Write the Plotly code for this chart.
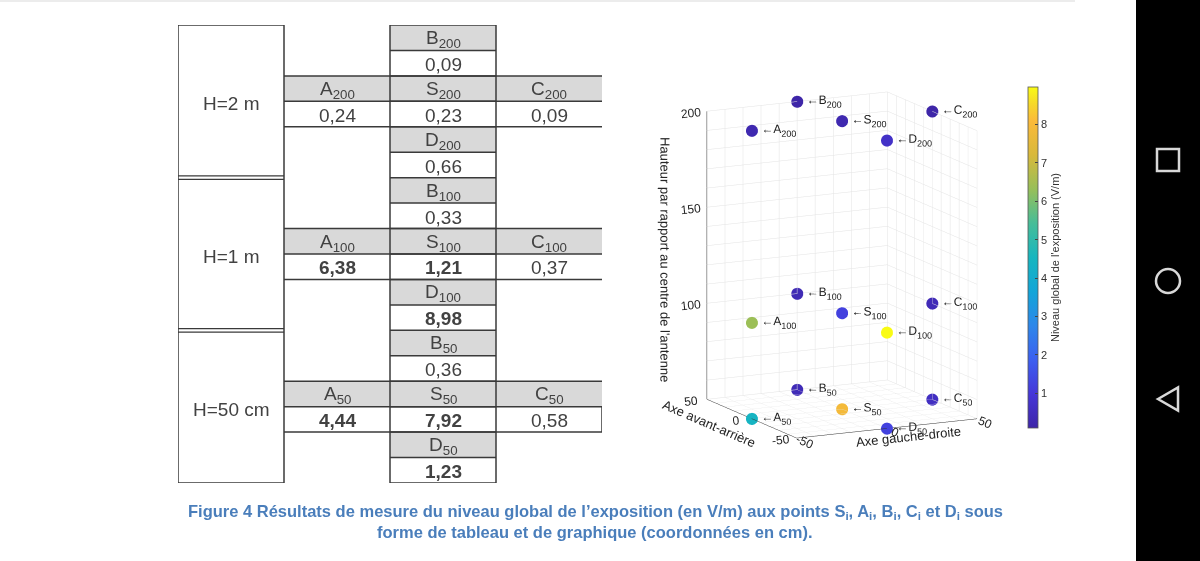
import plotly.graph_objects as go

# values (V/m), one entry per height
heights = [200, 100, 50]
level_labels = ["H=2 m", "H=1 m", "H=50 cm"]
point_names = ["S", "A", "B", "C", "D"]
pos_x = [0, -50, 0, 50, 0]    # Axe gauche-droite (cm)
pos_y = [0, 0, 50, 0, -50]    # Axe avant-arrière (cm)
S_vals = [0.23, 1.21, 7.92]
A_vals = [0.24, 6.38, 4.44]
B_vals = [0.09, 0.33, 0.36]
C_vals = [0.09, 0.37, 0.58]
D_vals = [0.66, 8.98, 1.23]
cbar_ticks = [1, 2, 3, 4, 5, 6, 7, 8]

W, H = 1200, 561
FONT = "Liberation Sans, Arial, sans-serif"
GRAY = "#d9d9d9"
LINE = "#3a3a3a"
TXT = "#424242"

vals = {"S": S_vals, "A": A_vals, "B": B_vals, "C": C_vals, "D": D_vals}

# parula-like colormap
parula = [
    [0.0, "#3e26a8"], [0.1, "#4637d8"], [0.2, "#3c5ff0"], [0.3, "#2d87ea"],
    [0.4, "#12a5d8"], [0.5, "#17b6bf"], [0.6, "#47bd98"], [0.7, "#97bf59"],
    [0.8, "#d8b93c"], [0.9, "#fbba3a"], [0.95, "#f6d82a"], [1.0, "#f9fb14"],
]


def fmt(v):
    s = f"{v:.2f}".replace(".", ",")
    return f"<b>{s}</b>" if v > 1 else s


def px2x(p):
    return p / W


def px2y(p):
    return 1 - p / H


shapes = []
annots = []


def hline(x0, x1, y, w=1.5):
    shapes.append(dict(type="line", xref="x", yref="y", x0=x0, x1=x1, y0=y, y1=y,
                       line=dict(color=LINE, width=w)))


def vline(x, y0, y1, w=1.5):
    shapes.append(dict(type="line", xref="x", yref="y", x0=x, x1=x, y0=y0, y1=y1,
                       line=dict(color=LINE, width=w)))


def cell(col, row, text, header):
    if header:
        shapes.append(dict(type="rect", xref="x", yref="y", x0=col, x1=col + 1,
                           y0=row, y1=row + 1, fillcolor=GRAY, line_width=0,
                           layer="below"))
    annots.append(dict(xref="x", yref="y", x=col + 0.5, y=row + 0.55, text=text,
                       showarrow=False, font=dict(family=FONT, size=19, color=TXT)))


# ---- table (columns: 0 = height box, 1 = A, 2 = S/B/D, 3 = C) ----
for i, h in enumerate(heights):
    r = 6 * i
    sub = f"<sub>{h}</sub>"
    cell(2, r, "B" + sub, True)
    cell(2, r + 1, fmt(B_vals[i]), False)
    cell(1, r + 2, "A" + sub, True)
    cell(2, r + 2, "S" + sub, True)
    cell(3, r + 2, "C" + sub, True)
    cell(1, r + 3, fmt(A_vals[i]), False)
    cell(2, r + 3, fmt(S_vals[i]), False)
    cell(3, r + 3, fmt(C_vals[i]), False)
    cell(2, r + 4, "D" + sub, True)
    cell(2, r + 5, fmt(D_vals[i]), False)
    annots.append(dict(xref="x", yref="y", x=0.5, y=r + 3.1, text=level_labels[i],
                       showarrow=False, font=dict(family=FONT, size=19, color=TXT)))
    for k in (2, 3, 4):
        hline(1, 4, r + k)

for k in range(19):
    hline(2, 3, k)
for x in (0, 1, 2, 3):
    vline(x, 0, 18)
vline(4, 15, 16)
hline(0, 1, 0)
hline(0, 1, 18)
for y in (6, 12):
    hline(0, 1, y - 0.07, 1.2)
    hline(0, 1, y + 0.07, 1.2)

# ---- 3D scatter ----
xs, ys, zs, cs, labels = [], [], [], [], []
for i, h in enumerate(heights):
    for name, x, y in zip(point_names, pos_x, pos_y):
        xs.append(x)
        ys.append(y)
        zs.append(h)
        cs.append(vals[name][i])
        labels.append("\u2190" + name + f"<sub>{h}</sub>")

scatter = go.Scatter3d(
    x=xs, y=ys, z=zs, mode="markers+text", text=labels,
    textposition="middle right",
    textfont=dict(family=FONT, size=12, color="#222222"),
    marker=dict(
        size=7, color=cs, colorscale=parula, opacity=1, line=dict(width=0),
        colorbar=dict(
            x=px2x(1028), xanchor="left", xpad=0, y=px2y(257.5), yanchor="middle",
            ypad=0, len=341 / H, thickness=10, tickvals=cbar_ticks, ticks="inside",
            ticklen=3, tickcolor="#444", outlinewidth=0.8, outlinecolor="#555",
            tickfont=dict(family=FONT, size=11, color="#333"),
            title=dict(text="Niveau global de l'exposition (V/m)", side="right",
                       font=dict(family=FONT, size=11, color="#333")),
        ),
    ),
    hoverinfo="skip", showlegend=False,
)

grid_xy = list(range(-50, 51, 10))
grid_z = list(range(50, 201, 10))


def axis3d(title, tv, rng):
    return dict(
        title=dict(text=title, font=dict(family=FONT, size=13, color="#262626")),
        range=rng, tickvals=tv, ticktext=[str(v) if v % 50 == 0 else "" for v in tv],
        tickfont=dict(family=FONT, size=12, color="#262626"),
        showbackground=False, gridcolor="#e3e3e3", gridwidth=1,
        showline=True, linecolor="#333", linewidth=1, zeroline=False,
        showspikes=False, ticks="",
    )


fig = go.Figure(scatter)
fig.update_layout(
    width=W, height=H, margin=dict(l=0, r=0, t=0, b=0),
    paper_bgcolor="white", plot_bgcolor="white", template="none",
    xaxis=dict(domain=[px2x(178), px2x(602)], range=[0, 4], visible=False,
               fixedrange=True),
    yaxis=dict(domain=[px2y(483), px2y(25)], range=[18, 0], visible=False,
               fixedrange=True),
    scene=dict(
        domain=dict(x=[0.532, 0.872], y=[0.138, 0.918]),
        xaxis=axis3d("Axe gauche-droite", grid_xy, [-50, 50]),
        yaxis=axis3d("Axe avant-arrière", grid_xy, [-50, 50]),
        zaxis=axis3d("Hauteur par rapport au centre de l'antenne", grid_z, [50, 200]),
        aspectmode="manual", aspectratio=dict(x=0.92, y=0.92, z=1.347),
        camera=dict(projection=dict(type="orthographic"),
                    eye=dict(x=-0.97, y=-1.95, z=0.48),
                    up=dict(x=0, y=0, z=1), center=dict(x=0, y=0, z=0)),
    ),
)

# phone navigation bar and page decorations
shapes.append(dict(type="line", xref="paper", yref="paper", x0=0, x1=px2x(1075),
                   y0=px2y(1), y1=px2y(1), line=dict(color="#ececec", width=2)))
shapes.append(dict(type="rect", xref="paper", yref="paper", x0=px2x(1136), x1=1,
                   y0=0, y1=1, fillcolor="black", line_width=0))
shapes.append(dict(type="rect", xref="paper", yref="paper", x0=px2x(1157), x1=px2x(1179),
                   y0=px2y(171), y1=px2y(149), line=dict(color="#d8d8d8", width=2.5)))
shapes.append(dict(type="circle", xref="paper", yref="paper", x0=px2x(1156), x1=px2x(1180),
                   y0=px2y(293), y1=px2y(269), line=dict(color="#d8d8d8", width=2.5)))
tri = (f"M {px2x(1158)},{px2y(399)} L {px2x(1178)},{px2y(387.5)} "
       f"L {px2x(1178)},{px2y(410.5)} Z")
shapes.append(dict(type="path", xref="paper", yref="paper", path=tri,
                   line=dict(color="#d8d8d8", width=2.5)))

cap_font = dict(family="Liberation Sans Narrow, Arial Narrow, Liberation Sans, Arial",
                size=16.5, color="#4a7ebb")
annots.append(dict(xref="paper", yref="paper", x=px2x(595), y=px2y(512),
                   xanchor="center", yanchor="middle",
                   text="<b>Figure 4 Résultats de mesure du niveau global de l’exposition "
                        "(en V/m) aux points S<sub>i</sub>, A<sub>i</sub>, B<sub>i</sub>, "
                        "C<sub>i</sub> et D<sub>i</sub> sous</b>",
                   showarrow=False, font=cap_font))
annots.append(dict(xref="paper", yref="paper", x=px2x(595), y=px2y(532),
                   xanchor="center", yanchor="middle",
                   text="<b>forme de tableau et de graphique (coordonnées en cm).</b>",
                   showarrow=False, font=cap_font))

fig.update_layout(shapes=shapes, annotations=annots)
fig.write_html("out.html", config={"displayModeBar": False},
               post_script="document.body.style.margin = '0';")
